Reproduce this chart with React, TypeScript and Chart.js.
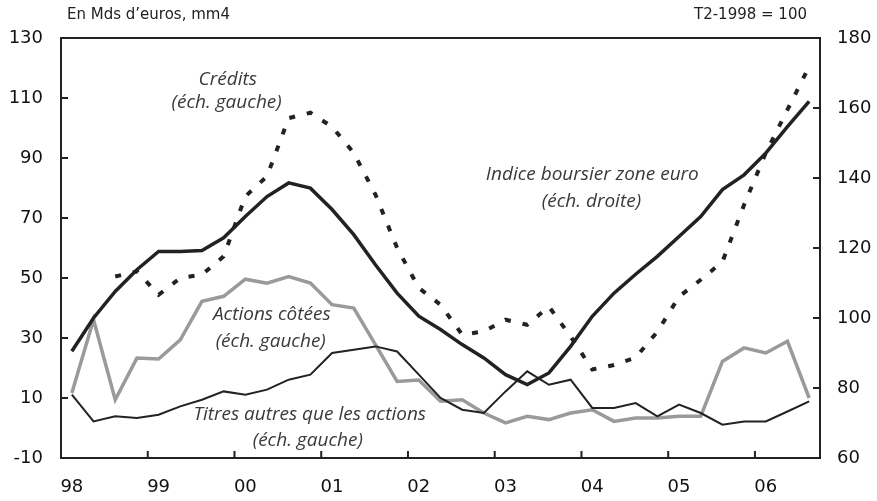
import React, { useEffect, useRef } from "react";
import { Chart, registerables } from "chart.js";

Chart.register(...registerables);

const quarters = [
  "T1 98", "T2 98", "T3 98", "T4 98",
  "T1 99", "T2 99", "T3 99", "T4 99",
  "T1 00", "T2 00", "T3 00", "T4 00",
  "T1 01", "T2 01", "T3 01", "T4 01",
  "T1 02", "T2 02", "T3 02", "T4 02",
  "T1 03", "T2 03", "T3 03", "T4 03",
  "T1 04", "T2 04", "T3 04", "T4 04",
  "T1 05", "T2 05", "T3 05", "T4 05",
  "T1 06", "T2 06", "T3 06",
];

const yearLabels = ["98", "99", "00", "01", "02", "03", "04", "05", "06"];

// Indice boursier zone euro (right scale, T2-1998 = 100)
const indice = [
  90.5, 100, 107.6, 113.8, 119, 119, 119.3, 122.9, 129, 134.7, 138.6, 137.1,
  131, 123.8, 115.2, 107.1, 100.5, 96.7, 92.4, 88.6, 83.8, 81, 84.3, 91.9,
  100.5, 107.1, 112.5, 117.6, 123.3, 129, 136.7, 140.9, 147.1, 154.7, 161.9,
];

// Crédits (left scale)
const credits = [
  null, null, 50.5, 52.2, 44.4, 50, 51.1, 57.2, 77.2, 83.9, 103.3, 105.1,
  100.4, 91.7, 77.8, 60, 46.7, 41.1, 31.1, 32.2, 36.1, 34.4, 40.5, 30.5,
  19.5, 21, 23.5, 32.1, 43.8, 49.4, 55.4, 74.4, 91.7, 106.1, 120.5,
];

// Actions côtées (left scale)
const actions = [
  11.7, 36.1, 9.4, 23.3, 23, 29.4, 42.2, 43.9, 49.6, 48.3, 50.5, 48.3,
  41.1, 40, 27.8, 15.5, 16, 8.9, 9.4, 5, 1.7, 3.9, 2.8, 5,
  6.1, 2.2, 3.3, 3.3, 3.9, 3.9, 22.2, 26.7, 25, 28.9, 10,
];

// Titres autres que les actions (left scale)
const titres = [
  11.1, 2.2, 3.9, 3.3, 4.4, 7.2, 9.4, 12.2, 11.1, 12.8, 16.1, 17.8,
  25, 26.1, 27.2, 25.5, 17.8, 10, 6.1, 5, 12.2, 18.9, 14.4, 16.1,
  6.7, 6.7, 8.3, 3.9, 7.8, 5, 1.1, 2.2, 2.2, 5.5, 8.9,
];

const leftTicks = [-10, 10, 30, 50, 70, 90, 110, 130];
const rightTicks = [60, 80, 100, 120, 140, 160, 180];

// Annotation texts anchored in data coordinates (category index, left-scale value)
const annoTexts = [
  "Crédits", "(éch. gauche)",
  "Indice boursier zone euro", "(éch. droite)",
  "Actions côtées", "(éch. gauche)",
  "Titres autres que les actions", "(éch. gauche)",
];
const annoIndex = [7.19, 7.14, 24.0, 23.96, 9.22, 9.17, 10.97, 10.88];
const annoValue = [116.1, 108.4, 84.4, 75.4, 37.8, 28.8, 4.4, -4.1];

const headerLeft = "En Mds d’euros, mm4";
const headerRight = "T2-1998 = 100";

const INK = "#222222";
const GRAY = "#9a9a9a";

const framePlugin = {
  id: "frame",
  afterDatasetsDraw(chart: any) {
    const { ctx, chartArea } = chart;
    const { left, right, top, bottom } = chartArea;
    const x = chart.scales.x;
    const y = chart.scales.y;
    const y1 = chart.scales.y1;
    ctx.save();
    ctx.strokeStyle = INK;
    ctx.lineWidth = 2;
    ctx.strokeRect(left, top, right - left, bottom - top);
    const tl = 7;
    ctx.beginPath();
    leftTicks.forEach((v) => {
      const p = y.getPixelForValue(v);
      ctx.moveTo(left, p);
      ctx.lineTo(left + tl, p);
    });
    rightTicks.forEach((v) => {
      const p = y1.getPixelForValue(v);
      ctx.moveTo(right, p);
      ctx.lineTo(right - tl, p);
    });
    for (let k = 1; k < yearLabels.length; k++) {
      const p = (x.getPixelForValue(4 * k) + x.getPixelForValue(4 * k - 1)) / 2;
      ctx.moveTo(p, bottom);
      ctx.lineTo(p, bottom - tl);
    }
    ctx.stroke();

    // annotations
    ctx.fillStyle = "#3a3a3a";
    ctx.font = "italic 19px 'Open Sans'";
    ctx.textAlign = "center";
    ctx.textBaseline = "middle";
    annoTexts.forEach((t, i) => {
      ctx.fillText(t, x.getPixelForValue(annoIndex[i]), y.getPixelForValue(annoValue[i]));
    });

    // header texts
    ctx.fillStyle = "#222";
    ctx.font = "15px 'DejaVu Sans'";
    ctx.textAlign = "left";
    ctx.fillText(headerLeft, left + 6, top - 23);
    ctx.textAlign = "right";
    ctx.fillText(headerRight, right - 13, top - 23);
    ctx.restore();
  },
};

export default function App() {
  const ref = useRef<HTMLCanvasElement | null>(null);
  useEffect(() => {
    document.body.style.margin = "0";
    if (!ref.current) return;
    const chart = new Chart(ref.current, {
      type: "line",
      data: {
        labels: quarters,
        datasets: [
          {
            label: "Actions côtées",
            data: actions,
            yAxisID: "y",
            borderColor: GRAY,
            borderWidth: 3.5,
            pointRadius: 0,
            tension: 0,
            order: 4,
          },
          {
            label: "Titres autres que les actions",
            data: titres,
            yAxisID: "y",
            borderColor: INK,
            borderWidth: 2,
            pointRadius: 0,
            tension: 0,
            order: 3,
          },
          {
            label: "Crédits",
            data: credits,
            yAxisID: "y",
            borderColor: INK,
            borderWidth: 4,
            borderDash: [6, 12],
            pointRadius: 0,
            tension: 0,
            spanGaps: false,
            order: 2,
          },
          {
            label: "Indice boursier zone euro",
            data: indice,
            yAxisID: "y1",
            borderColor: INK,
            borderWidth: 3.5,
            pointRadius: 0,
            tension: 0,
            order: 1,
          },
        ],
      },
      options: {
        animation: false,
        responsive: true,
        maintainAspectRatio: false,
        layout: { padding: { top: 38, left: 0, right: 0, bottom: 0 } },
        plugins: {
          legend: { display: false },
          tooltip: { enabled: false },
        },
        scales: {
          x: {
            type: "category",
            offset: true,
            grid: { display: false, drawTicks: false },
            border: { display: false },
            ticks: {
              autoSkip: false,
              maxRotation: 0,
              padding: 19,
              color: "#111",
              font: { family: "DejaVu Sans", size: 18 },
              callback: (_v: any, idx: number) => (idx % 4 === 0 ? yearLabels[idx / 4] : ""),
            },
            afterFit: (s: any) => {
              s.height = 43;
            },
          },
          y: {
            position: "left",
            min: -10,
            max: 130,
            grid: { display: false, drawTicks: false },
            border: { display: false },
            ticks: {
              stepSize: 20,
              padding: 18,
              color: "#111",
              font: { family: "DejaVu Sans", size: 18 },
            },
            afterBuildTicks: (s: any) => {
              s.ticks = leftTicks.map((v) => ({ value: v }));
            },
            afterFit: (s: any) => {
              s.width = 61;
            },
          },
          y1: {
            position: "right",
            min: 60,
            max: 180,
            grid: { display: false, drawTicks: false },
            border: { display: false },
            ticks: {
              stepSize: 20,
              padding: 17,
              color: "#111",
              font: { family: "DejaVu Sans", size: 18 },
            },
            afterBuildTicks: (s: any) => {
              s.ticks = rightTicks.map((v) => ({ value: v }));
            },
            afterFit: (s: any) => {
              s.width = 57;
            },
          },
        },
      },
      plugins: [framePlugin],
    });
    return () => chart.destroy();
  }, []);
  return (
    <div style={{ width: 877, height: 501, position: "relative" }}>
      <canvas ref={ref} />
    </div>
  );
}
